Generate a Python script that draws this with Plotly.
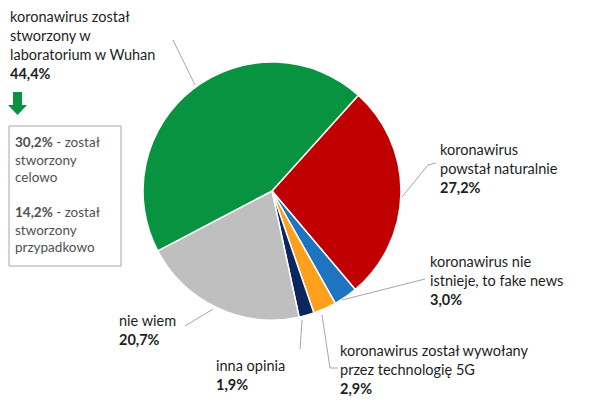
import plotly.graph_objects as go

W, H = 592, 415

labels = ["koronawirus powstał naturalnie", "koronawirus nie istnieje, to fake news",
          "koronawirus został wywołany przez technologię 5G", "inna opinia", "nie wiem",
          "koronawirus został stworzony w laboratorium w Wuhan"]
values = [27.2, 3.0, 2.9, 1.9, 20.7, 44.4]
colors = ["#c00000", "#1f74c2", "#ffa01c", "#0c2660", "#bfbfbf", "#079340"]

label_texts = [
    "koronawirus<br>powstał naturalnie<br><b>27,2%</b>",
    "koronawirus nie<br>istnieje, to fake news<br><b>3,0%</b>",
    "koronawirus został wywołany<br>przez technologię 5G<br><b>2,9%</b>",
    "inna opinia<br><b>1,9%</b>",
    "nie wiem<br><b>20,7%</b>",
    "koronawirus został<br>stworzony w<br>laboratorium w Wuhan<br><b>44,4%</b>",
]
box_text = ("<b>30,2%</b> - został<br>stworzony<br>celowo<br><br>"
            "<b>14,2%</b> - został<br>stworzony<br>przypadkowo")

# label top-left positions in px
label_pos = [(438, 139), (428, 251), (338, 340), (214, 355), (117, 310), (8, 6)]
# leader lines in px
leaders = [
    [(436, 163), (428, 165), (402, 197)],
    [(425, 279), (342, 300)],
    [(338, 368), (330, 368), (322, 315)],
    [(300, 349), (302, 320)],
    [(185, 326), (213, 309)],
    [(173, 40), (195, 85)],
]

def px(x, y):
    return x / W, 1 - y / H

cx, cy, r = 272, 191, 129

fig = go.Figure(go.Pie(
    labels=labels, values=values, sort=False, direction="clockwise", rotation=42,
    marker=dict(colors=colors, line=dict(color="white", width=1.5)),
    textinfo="none", hoverinfo="label+percent", showlegend=False,
    domain=dict(x=[(cx - r) / W, (cx + r) / W], y=[1 - (cy + r) / H, 1 - (cy - r) / H]),
))

font = dict(family="Lato, Liberation Sans, sans-serif", size=14.5, color="#1e1e1e")
annotations = []
for t, (x, y) in zip(label_texts, label_pos):
    ax, ay = px(x, y)
    annotations.append(dict(x=ax, y=ay, xref="paper", yref="paper", text=t, showarrow=False,
                            xanchor="left", yanchor="top", align="left", font=font))
bx, by = px(13, 132)
annotations.append(dict(x=bx, y=by, xref="paper", yref="paper", text=box_text, showarrow=False,
                        xanchor="left", yanchor="top", align="left",
                        font=dict(family=font["family"], size=13.5, color="#505050")))

shapes = []
for pts in leaders:
    path = "M " + " L ".join(f"{px(x, y)[0]},{px(x, y)[1]}" for x, y in pts)
    shapes.append(dict(type="path", xref="paper", yref="paper", path=path,
                       line=dict(color="#a6a6a6", width=1)))

# box round the split of the Wuhan answer
x0, y0 = px(9, 126)
x1, y1 = px(121, 266)
shapes.append(dict(type="rect", xref="paper", yref="paper", x0=x0, y0=y1, x1=x1, y1=y0,
                   line=dict(color="#a6a6a6", width=1)))
# green down arrow
arrow = [(13, 92), (22, 92), (22, 105), (27, 105), (17.5, 115), (8, 105), (13, 105)]
path = "M " + " L ".join(f"{px(x, y)[0]},{px(x, y)[1]}" for x, y in arrow) + " Z"
shapes.append(dict(type="path", xref="paper", yref="paper", path=path,
                   fillcolor="#079340", line=dict(width=0)))

fig.update_layout(width=W, height=H, margin=dict(l=0, r=0, t=0, b=0),
                  paper_bgcolor="white", plot_bgcolor="white",
                  annotations=annotations, shapes=shapes)

# page body has an 8px default margin; drop it so the figure fills the window
fig.write_html("out.html", config={"displayModeBar": False},
               post_script="document.body.style.margin='0';")
